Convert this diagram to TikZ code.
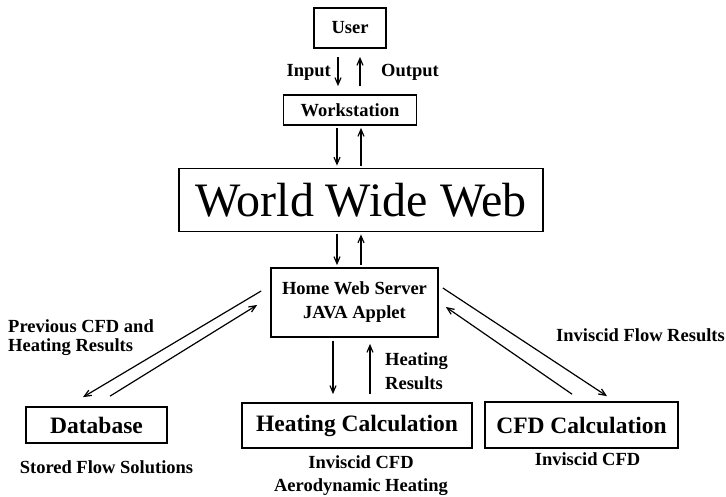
\documentclass[tikz,border=0pt]{standalone}
\usepackage{fontspec}
\setmainfont{Liberation Serif}
\usetikzlibrary{arrows.meta,positioning}

\begin{document}
\begin{tikzpicture}[x=1pt,y=-1pt,
    box/.style={draw, line width=1.7pt, inner sep=0pt, align=center},
    small/.style={font=\fontsize{18.5}{24}\selectfont\bfseries},
    big/.style={font=\fontsize{23.5}{28}\selectfont\bfseries},
    lbl/.style={small, inner sep=0pt},
    arr/.style={line width=1.2pt, -{Straight Barb[length=7pt,width=6pt]}}]
    \useasboundingbox (0,0) rectangle (726,497);

    % Draw the boxes
    \node[box, small, minimum width=72pt, minimum height=40pt] (user) at (350,28) {User};
    \node[box, small, minimum width=133pt, minimum height=30pt] (work) at (350,110) {Workstation};
    \node[box, font=\fontsize{48}{56}\selectfont, minimum width=364pt, minimum height=63pt] (www) at (361,200) {World Wide Web};
    \node[box, small, minimum width=167pt, minimum height=69pt] (hws) at (354.5,302.5) {Home Web Server\\JAVA Applet};
    \node[box, big, minimum width=141pt, minimum height=36pt] (db) at (96.5,425) {Database};
    \node[box, big, minimum width=230pt, minimum height=45pt] (heat) at (357,425.5) {Heating Calculation};
    \node[box, big, minimum width=193pt, minimum height=46pt] (cfd) at (581.5,425) {CFD Calculation};

    % Add labels
    \node[lbl, anchor=east] (input) at (331,72) {Input};
    \node[lbl, anchor=west] (output) at (381,72) {Output};
    \node[lbl, anchor=west, align=left, font=\fontsize{18.5}{19}\selectfont\bfseries] (prev) at (8,338) {Previous CFD and\\Heating Results};
    \node[lbl, anchor=west, align=left] (heatres) at (385,371) {Heating\\Results};
    \node[lbl, anchor=east] (flowres) at (725,335) {Inviscid Flow Results};
    \node[lbl, below=17pt of db, xshift=10pt] (stored) {Stored Flow Solutions};
    \node[lbl, below=7pt of heat, xshift=4pt, align=center, font=\fontsize{18.5}{23}\selectfont\bfseries] (heatsub) {Inviscid CFD\\Aerodynamic Heating};
    \node[lbl, below=4pt of cfd, xshift=6pt] (cfdsub) {Inviscid CFD};

    % Draw vertical arrows
    \coordinate (ua) at ([xshift=-12pt]user.south);
    \coordinate (ub) at ([xshift=10pt]user.south);
    \draw[arr, shorten <=8pt, shorten >=8pt] (ua) -- (ua |- work.north);
    \draw[arr, shorten <=8pt, shorten >=8pt] (ub |- work.north) -- (ub);
    \coordinate (wa) at ([xshift=-13pt]work.south);
    \coordinate (wb) at ([xshift=11pt]work.south);
    \draw[arr, shorten <=2pt, shorten >=2pt] (wa) -- (wa |- www.north);
    \draw[arr, shorten <=2pt, shorten >=2pt] (wb |- www.north) -- (wb);
    \coordinate (sa) at ([xshift=-17.5pt]hws.north);
    \coordinate (sb) at ([xshift=6.5pt]hws.north);
    \draw[arr, shorten <=2pt, shorten >=2pt] (sa |- www.south) -- (sa);
    \draw[arr, shorten <=2pt, shorten >=2pt] (sb) -- (sb |- www.south);
    \coordinate (ha) at ([xshift=-21.5pt]hws.south);
    \coordinate (hb) at ([xshift=15.5pt]hws.south);
    \draw[arr, shorten <=3pt, shorten >=8pt] (ha) -- (ha |- heat.north);
    \draw[arr, shorten <=8pt, shorten >=6pt] (hb |- heat.north) -- (hb);

    % Draw diagonal arrows
    \draw[arr] ([shift={(-9,-11.5)}]hws.west) -- ([shift={(-13.5,-9)}]db.north);
    \draw[arr] ([shift={(13.5,-10)}]db.north) -- ([shift={(-13,2.5)}]hws.west);
    \draw[arr] ([shift={(4,-14.5)}]hws.east) -- ([shift={(25.5,-5)}]cfd.north);
    \draw[arr] ([shift={(-9.5,-7)}]cfd.north) -- ([shift={(7,4.5)}]hws.east);
\end{tikzpicture}
\end{document}
